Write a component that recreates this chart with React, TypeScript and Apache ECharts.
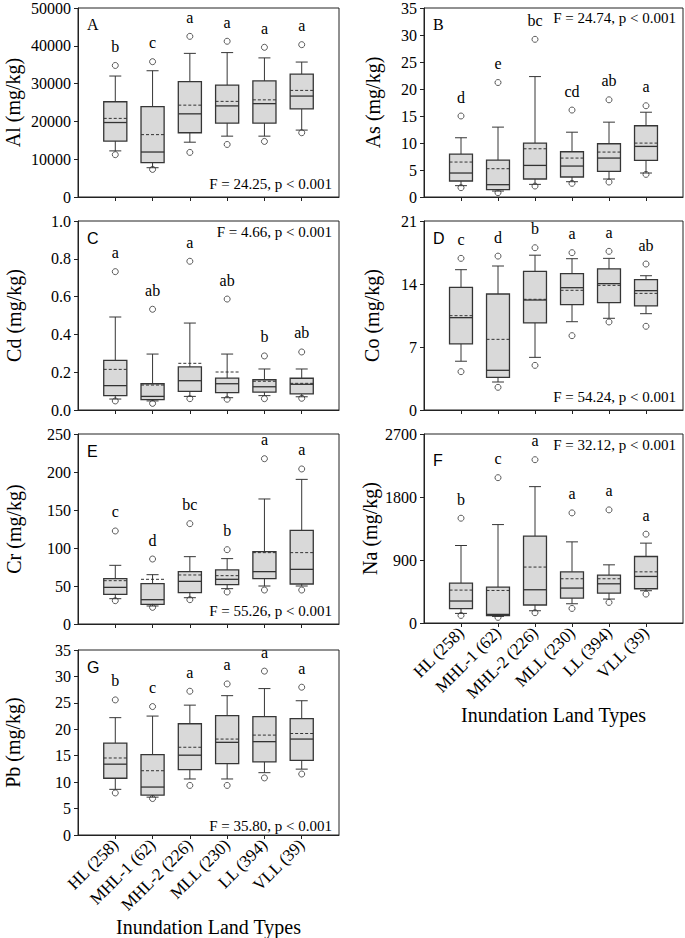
import React, { useEffect, useRef } from 'react';
import * as echarts from 'echarts';

const categories = ['HL (258)', 'MHL-1 (62)', 'MHL-2 (226)', 'MLL (230)', 'LL (394)', 'VLL (39)'];
const xTitle = 'Inundation Land Types';

// Panel A – Al
const alLowerWhisker = [12200, 7750, 14500, 16100, 16100, 17700];
const alQ1 = [14800, 9070, 17000, 19550, 19550, 23300];
const alMedian = [19700, 11900, 22000, 24100, 24700, 26700];
const alMean = [20800, 16500, 24300, 25300, 25700, 28200];
const alQ3 = [25200, 23900, 30500, 29600, 30700, 32500];
const alUpperWhisker = [32000, 33400, 38000, 38200, 36800, 35700];
const alLowOutlier = [11200, 7300, 11800, 13900, 14700, 17000];
const alHighOutlier = [34800, 35800, 42500, 41200, 39600, 40300];
const alLetters = ['b', 'c', 'a', 'a', 'a', 'a'];

// Panel B – As
const asLowerWhisker = [2.1, 1.1, 2.34, 2.83, 3.33, 4.44];
const asQ1 = [2.96, 1.36, 3.33, 3.7, 4.74, 6.78];
const asMedian = [4.44, 2.28, 5.85, 5.73, 7.21, 9.37];
const asMean = [6.47, 5.24, 8.93, 7.21, 8.32, 9.98];
const asQ3 = [7.95, 6.84, 9.98, 8.38, 9.86, 13.19];
const asUpperWhisker = [10.97, 12.94, 22.3, 12.0, 13.86, 15.7];
const asLowOutlier = [1.73, 0.8, 2.03, 2.53, 2.77, 4.19];
const asHighOutlier = [15.0, 21.2, 29.2, 16.1, 18.0, 16.9];
const asLetters = ['d', 'e', 'bc', 'cd', 'ab', 'a'];

// Panel C – Cd
const cdLowerWhisker = [0.058, 0.048, 0.072, 0.065, 0.076, 0.07];
const cdQ1 = [0.076, 0.055, 0.099, 0.092, 0.095, 0.085];
const cdMedian = [0.129, 0.072, 0.155, 0.139, 0.123, 0.136];
const cdMean = [0.215, 0.132, 0.247, 0.201, 0.152, 0.141];
const cdQ3 = [0.263, 0.139, 0.228, 0.169, 0.16, 0.168];
const cdUpperWhisker = [0.492, 0.296, 0.46, 0.296, 0.217, 0.217];
const cdLowOutlier = [0.048, 0.035, 0.06, 0.057, 0.06, 0.062];
const cdHighOutlier = [0.732, 0.533, 0.787, 0.587, 0.286, 0.307];
const cdLetters = ['a', 'ab', 'a', 'ab', 'b', 'ab'];

// Panel D – Co
const coLowerWhisker = [5.42, 3.11, 5.85, 9.81, 10.19, 10.7];
const coQ1 = [7.35, 3.63, 9.67, 11.7, 11.93, 11.56];
const coMedian = [10.26, 4.41, 12.22, 13.59, 14.04, 13.26];
const coMean = [10.48, 7.85, 12.3, 13.3, 13.85, 12.96];
const coQ3 = [13.63, 12.89, 15.41, 15.15, 15.67, 14.48];
const coUpperWhisker = [15.59, 16.0, 17.2, 16.81, 16.85, 14.92];
const coLowOutlier = [4.26, 2.52, 4.96, 8.26, 9.78, 9.3];
const coHighOutlier = [16.85, 17.1, 18.03, 17.48, 17.63, 16.22];
const coLetters = ['c', 'd', 'b', 'a', 'a', 'ab'];

// Panel E – Cr
const crLowerWhisker = [33.3, 23.7, 34.6, 46.5, 50.0, 50.0];
const crQ1 = [39.0, 25.9, 41.2, 51.8, 59.6, 52.6];
const crMedian = [48.2, 32.0, 56.1, 58.8, 68.9, 71.9];
const crMean = [57.0, 58.8, 64.5, 63.6, 93.9, 93.9];
const crQ3 = [59.6, 53.1, 68.8, 71.1, 95.2, 123.2];
const crUpperWhisker = [77.2, 64.9, 88.6, 86.0, 164.5, 190.3];
const crLowOutlier = [30.7, 21.9, 32.0, 42.1, 44.7, 44.7];
const crHighOutlier = [122.4, 85.5, 132, 97.8, 217.5, 204];
const crLetters = ['c', 'd', 'bc', 'b', 'a', 'a'];

// Panel F – Na
const naLowerWhisker = [137, 94, 175, 275, 342, 461];
const naQ1 = [204, 104, 257, 356, 428, 489];
const naMedian = [314, 123, 475, 499, 560, 665];
const naMean = [470, 465, 799, 632, 632, 731];
const naQ3 = [570, 513, 1241, 731, 684, 950];
const naUpperWhisker = [1107, 1406, 1948, 1159, 831, 1141];
const naLowOutlier = [108, 80, 147, 208, 294, 413];
const naHighOutlier = [1497, 2076, 2333, 1573, 1616, 1269];
const naLetters = ['b', 'c', 'a', 'a', 'a', 'a'];

// Panel G – Pb
const pbLowerWhisker = [8.64, 7.16, 10.6, 10.6, 11.79, 12.46];
const pbQ1 = [10.74, 7.53, 12.35, 13.52, 13.83, 14.13];
const pbMedian = [13.4, 9.07, 15.1, 17.53, 17.66, 18.15];
const pbMean = [14.57, 12.16, 16.6, 18.15, 18.9, 19.2];
const pbQ3 = [17.4, 15.2, 21.05, 22.6, 22.4, 22.0];
const pbUpperWhisker = [22.2, 22.5, 24.57, 26.36, 27.7, 25.4];
const pbLowOutlier = [7.96, 6.9, 9.38, 9.38, 10.8, 11.54];
const pbHighOutlier = [25.56, 24.3, 27.2, 28.58, 31.0, 27.96];
const pbLetters = ['b', 'c', 'a', 'a', 'a', 'a'];

const SERIF = '"Liberation Serif", "Times New Roman", serif';
const SANS = '"Liberation Sans", Arial, sans-serif';
const INK = '#222';
const BOX_STROKE = '#363636';
const BOX_FILL = '#d9d9d9';

type Stats = {
  lw: number[]; q1: number[]; med: number[]; mean: number[]; q3: number[]; uw: number[];
  lo: number[]; hi: number[]; letters: string[];
};

const panels = [
  {
    id: 'A', letterFont: SERIF, yName: 'Al (mg/kg)', yMax: 50000, yInterval: 10000, decimals: 0,
    stat: 'F = 24.25, p < 0.001', statTop: false, nameGap: 55, showX: false,
    grid: { left: 78, top: 7, width: 261, height: 190 },
    s: { lw: alLowerWhisker, q1: alQ1, med: alMedian, mean: alMean, q3: alQ3, uw: alUpperWhisker, lo: alLowOutlier, hi: alHighOutlier, letters: alLetters },
  },
  {
    id: 'B', letterFont: SERIF, yName: 'As (mg/kg)', yMax: 35, yInterval: 5, decimals: 0,
    stat: 'F = 24.74, p < 0.001', statTop: true, nameGap: 41, showX: false,
    grid: { left: 424, top: 7, width: 259, height: 190 },
    s: { lw: asLowerWhisker, q1: asQ1, med: asMedian, mean: asMean, q3: asQ3, uw: asUpperWhisker, lo: asLowOutlier, hi: asHighOutlier, letters: asLetters },
  },
  {
    id: 'C', letterFont: SANS, yName: 'Cd (mg/kg)', yMax: 1.0, yInterval: 0.2, decimals: 1,
    stat: 'F = 4.66, p < 0.001', statTop: true, nameGap: 54, showX: false,
    grid: { left: 78, top: 221, width: 261, height: 189 },
    s: { lw: cdLowerWhisker, q1: cdQ1, med: cdMedian, mean: cdMean, q3: cdQ3, uw: cdUpperWhisker, lo: cdLowOutlier, hi: cdHighOutlier, letters: cdLetters },
  },
  {
    id: 'D', letterFont: SANS, yName: 'Co (mg/kg)', yMax: 21, yInterval: 7, decimals: 0,
    stat: 'F = 54.24, p < 0.001', statTop: false, nameGap: 42, showX: false,
    grid: { left: 424, top: 221, width: 259, height: 189 },
    s: { lw: coLowerWhisker, q1: coQ1, med: coMedian, mean: coMean, q3: coQ3, uw: coUpperWhisker, lo: coLowOutlier, hi: coHighOutlier, letters: coLetters },
  },
  {
    id: 'E', letterFont: SANS, yName: 'Cr (mg/kg)', yMax: 250, yInterval: 50, decimals: 0,
    stat: 'F = 55.26, p < 0.001', statTop: false, nameGap: 54, showX: false,
    grid: { left: 78, top: 434, width: 261, height: 190 },
    s: { lw: crLowerWhisker, q1: crQ1, med: crMedian, mean: crMean, q3: crQ3, uw: crUpperWhisker, lo: crLowOutlier, hi: crHighOutlier, letters: crLetters },
  },
  {
    id: 'F', letterFont: SANS, yName: 'Na (mg/kg)', yMax: 2700, yInterval: 900, decimals: 0,
    stat: 'F = 32.12, p < 0.001', statTop: true, nameGap: 44, showX: true,
    grid: { left: 424, top: 434, width: 259, height: 189 },
    s: { lw: naLowerWhisker, q1: naQ1, med: naMedian, mean: naMean, q3: naQ3, uw: naUpperWhisker, lo: naLowOutlier, hi: naHighOutlier, letters: naLetters },
  },
  {
    id: 'G', letterFont: SANS, yName: 'Pb (mg/kg)', yMax: 35, yInterval: 5, decimals: 0,
    stat: 'F = 35.80, p < 0.001', statTop: false, nameGap: 55, showX: true,
    grid: { left: 78, top: 650, width: 261, height: 189 },
    s: { lw: pbLowerWhisker, q1: pbQ1, med: pbMedian, mean: pbMean, q3: pbQ3, uw: pbUpperWhisker, lo: pbLowOutlier, hi: pbHighOutlier, letters: pbLetters },
  },
];

const positions = categories.map((_, i) => i + 1);

function boxRender(params: any, api: any) {
  const x = api.value(0);
  const pt = (v: number) => api.coord([x, v]);
  const [cx, yLow] = pt(api.value(1));
  const yQ1 = pt(api.value(2))[1];
  const yMed = pt(api.value(3))[1];
  const yQ3 = pt(api.value(4))[1];
  const yHigh = pt(api.value(5))[1];
  const yMean = pt(api.value(6))[1];
  const bw = api.size([1, 0])[0] * 0.62;
  const half = bw / 2;
  const cap = bw * 0.26;
  const ls = { stroke: BOX_STROKE, lineWidth: 1, fill: null };
  return {
    type: 'group',
    children: [
      { type: 'line', shape: { x1: cx, y1: yQ3, x2: cx, y2: yHigh }, style: ls },
      { type: 'line', shape: { x1: cx - cap, y1: yHigh, x2: cx + cap, y2: yHigh }, style: ls },
      { type: 'line', shape: { x1: cx, y1: yQ1, x2: cx, y2: yLow }, style: ls },
      { type: 'line', shape: { x1: cx - cap, y1: yLow, x2: cx + cap, y2: yLow }, style: ls },
      {
        type: 'rect',
        shape: { x: cx - half, y: yQ3, width: bw, height: yQ1 - yQ3 },
        style: { fill: BOX_FILL, stroke: BOX_STROKE, lineWidth: 1.3 },
      },
      { type: 'line', shape: { x1: cx - half, y1: yMed, x2: cx + half, y2: yMed }, style: { stroke: '#333', lineWidth: 1.3 } },
      {
        type: 'line',
        shape: { x1: cx - half, y1: yMean, x2: cx + half, y2: yMean },
        style: { stroke: '#333', lineWidth: 1, lineDash: [3, 2] },
      },
    ],
  };
}

function buildOption() {
  const grid: any[] = [];
  const xAxis: any[] = [];
  const yAxis: any[] = [];
  const series: any[] = [];
  const graphic: any[] = [];

  panels.forEach((p, gi) => {
    const s: Stats = p.s;
    grid.push({ ...p.grid, show: true, borderColor: INK, borderWidth: 1, backgroundColor: 'transparent', containLabel: false });
    xAxis.push({
      type: 'value', gridIndex: gi, min: 0, max: 7,
      splitLine: { show: false },
      axisLine: { show: true, onZero: false, lineStyle: { color: INK, width: 1 } },
      axisTick: { show: true, inside: false, length: 4, customValues: positions, lineStyle: { color: INK } },
      axisLabel: {
        show: p.showX, customValues: positions, rotate: 45, margin: 7,
        fontFamily: SERIF, fontSize: 17, color: '#000',
        formatter: (v: number) => categories[Math.round(v) - 1] ?? '',
      },
      name: p.showX ? xTitle : '',
      nameLocation: 'middle',
      nameGap: 82,
      nameTextStyle: { fontFamily: SERIF, fontSize: 20, color: '#000' },
    });
    yAxis.push({
      type: 'value', gridIndex: gi, min: 0, max: p.yMax, interval: p.yInterval,
      splitLine: { show: false },
      axisLine: { show: true, lineStyle: { color: INK, width: 1 } },
      axisTick: { show: true, inside: false, length: 4, lineStyle: { color: INK } },
      axisLabel: {
        margin: 7, fontFamily: SERIF, fontSize: 16, color: '#000',
        formatter: (v: number) => v.toFixed(p.decimals),
      },
      name: p.yName,
      nameLocation: 'middle',
      nameRotate: 90,
      nameGap: p.nameGap,
      nameTextStyle: { fontFamily: SERIF, fontSize: 20, color: '#000' },
    });

    series.push({
      type: 'custom',
      xAxisIndex: gi, yAxisIndex: gi,
      renderItem: boxRender,
      encode: { x: 0, y: [1, 2, 3, 4, 5, 6] },
      data: positions.map((x, i) => [x, s.lw[i], s.q1[i], s.med[i], s.q3[i], s.uw[i], s.mean[i]]),
      silent: true,
      z: 2,
    });
    series.push({
      type: 'scatter',
      xAxisIndex: gi, yAxisIndex: gi,
      symbol: 'circle', symbolSize: 6,
      itemStyle: { color: 'rgba(255,255,255,0)', borderColor: '#333', borderWidth: 1 },
      data: [
        ...positions.map((x, i) => [x, s.lo[i]]),
        ...positions.map((x, i) => [x, s.hi[i]]),
      ],
      silent: true,
      z: 3,
    });
    series.push({
      type: 'custom',
      xAxisIndex: gi, yAxisIndex: gi,
      encode: { x: 0, y: 1 },
      data: positions.map((x, i) => [x, s.hi[i]]),
      renderItem: (params: any, api: any) => {
        const c = api.coord([api.value(0), api.value(1)]);
        return {
          type: 'text',
          x: c[0], y: c[1] - 19,
          style: {
            text: s.letters[params.dataIndex],
            font: `16px ${SERIF}`,
            fill: '#000',
            align: 'center', verticalAlign: 'middle',
            textAlign: 'center', textVerticalAlign: 'middle',
          },
        };
      },
      silent: true,
      z: 4,
    });

    const g = p.grid;
    graphic.push({
      type: 'text',
      left: g.left + 9,
      top: g.top + (p.id === 'F' ? 18 : 9),
      style: { text: p.id, font: `16px ${p.letterFont}`, fill: '#000' },
    });
    const right = g.left + g.width - 7;
    const cy = p.statTop ? g.top + 11 : g.top + g.height - 13;
    graphic.push({
      type: 'text',
      x: right, y: cy,
      style: {
        text: p.stat, font: `15px ${SERIF}`, fill: '#000',
        align: 'right', verticalAlign: 'middle',
        textAlign: 'right', textVerticalAlign: 'middle',
      },
    });
  });

  return { animation: false, backgroundColor: '#fff', grid, xAxis, yAxis, series, graphic };
}

export default function App() {
  const ref = useRef<HTMLDivElement>(null);
  useEffect(() => {
    if (!ref.current) return;
    const chart = echarts.init(ref.current, undefined, { renderer: 'svg' });
    chart.setOption(buildOption() as any);
    return () => chart.dispose();
  }, []);
  return (
    <div
      ref={ref}
      style={{ position: 'absolute', left: 0, top: 0, width: 685, height: 938, background: '#fff' }}
    />
  );
}
